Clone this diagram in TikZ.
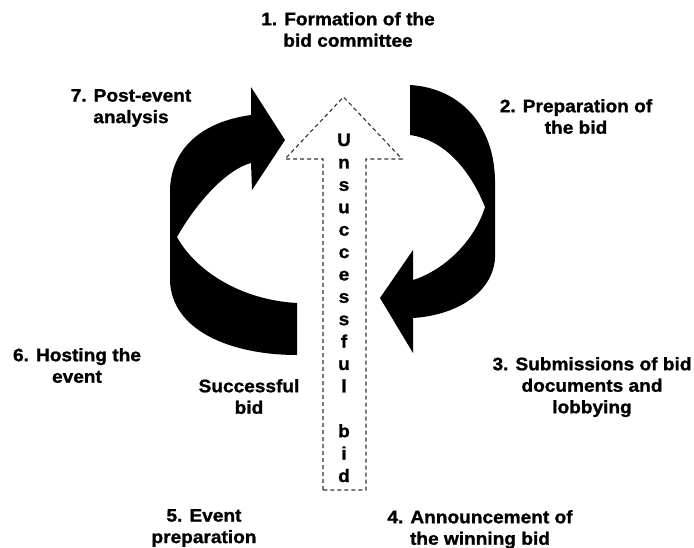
\documentclass[tikz,border=0pt]{standalone}
\usepackage{fontspec}
\setmainfont{Liberation Sans}[FakeStretch=1.06, BoldFeatures={FakeBold=1.2}]
\begin{document}
\begin{tikzpicture}[x=1pt,y=-1pt,
  lbl/.style={font=\fontsize{18}{21.5}\selectfont\bfseries, align=center, anchor=north, inner sep=0pt, text=black},
  vletter/.style={font=\fontsize{18}{22}\selectfont\bfseries, anchor=base, inner sep=0pt, text=black},
  bigarrow/.style={fill=black, draw=none},
  dashedarrow/.style={draw=black!80, line width=1.1pt, dash pattern=on 4pt off 3pt}]
\useasboundingbox (0,0) rectangle (694,548);
\fill[white] (0,0) rectangle (694,548);

% left curved arrow (7 -> 1)
\path[bigarrow] (285,140) -- (251,87) -- (251,115)
  .. controls (200,122) and (171,150) .. (170,190) -- (170,280)
  .. controls (171,330) and (230,355) .. (297,355) -- (297,303)
  .. controls (240,300) and (195,270) .. (177,237)
  .. controls (195,205) and (225,170) .. (251,163) -- (252,190) -- cycle;

% right curved arrow (2 -> 3)
\path[bigarrow] (410,85)
  .. controls (460,88) and (494,125) .. (495,180) -- (495,257)
  .. controls (494,290) and (460,315) .. (413,318) -- (413,353) -- (380,298) -- (413,250) -- (413,280)
  .. controls (445,270) and (475,240) .. (485,207)
  .. controls (470,170) and (445,140) .. (410,135) -- cycle;

% dashed arrow (unsuccessful bid)
\draw[dashedarrow] (323,490) -- (323,159) -- (285,159) -- (343.5,97) -- (402,159) -- (366,159) -- (366,490) -- cycle;

% vertical text
\foreach \ch [count=\i from 0] in {U,n,s,u,c,c,e,s,s,f,u,l,{},b,i,d} {
  \node[vletter] (v\i) at (344,146+22.4*\i) {\ch};
}

% labels
\node[lbl] (l1) at (348,12) {1. Formation of the\\bid committee};
\node[lbl] (l2) at (576,99) {2. Preparation of\\the bid};
\node[lbl] (l3) at (592,357) {3. Submissions of bid\\documents and\\lobbying};
\node[lbl] (l4) at (480,510) {4. Announcement of\\the winning bid};
\node[lbl] (l5) at (204,509) {5. Event\\preparation};
\node[lbl] (l6) at (77,348) {6. Hosting the\\event};
\node[lbl] (l7) at (131,89) {7. Post-event\\analysis};
\node[lbl] (ls) at (249,379) {Successful\\bid};
\end{tikzpicture}
\end{document}
